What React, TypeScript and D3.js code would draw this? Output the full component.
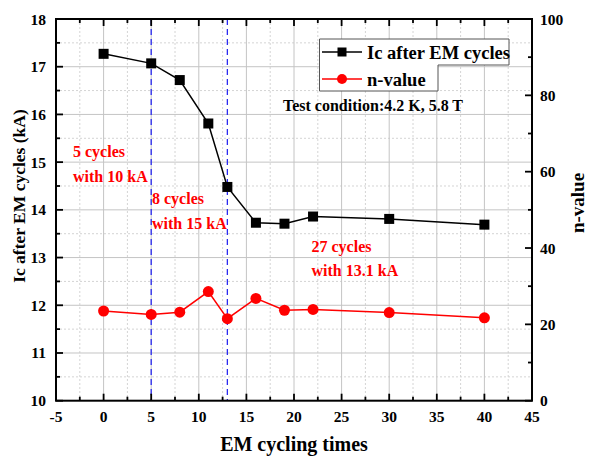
import React from "react";
import * as d3 from "d3";

const cycles = [0, 5, 8, 11, 13, 16, 19, 22, 30, 40];
const icValues = [17.27, 17.07, 16.72, 15.81, 14.48, 13.73, 13.71, 13.86, 13.81, 13.69];
const nValues = [23.5, 22.6, 23.2, 28.6, 21.5, 26.8, 23.7, 23.9, 23.1, 21.7];
const xTicks = [-5, 0, 5, 10, 15, 20, 25, 30, 35, 40, 45];
const yLeftTicks = [10, 11, 12, 13, 14, 15, 16, 17, 18];
const yRightTicks = [0, 20, 40, 60, 80, 100];
const dividers = [5, 13];

const W = 589;
const H = 457;
const M = { left: 56, right: 532, top: 19, bottom: 400.7 };
const FONT = "'Liberation Serif', 'Times New Roman', serif";

export default function App() {
  const x = d3.scaleLinear().domain([-5, 45]).range([M.left, M.right]);
  const yL = d3.scaleLinear().domain([10, 18]).range([M.bottom, M.top]);
  const yR = d3.scaleLinear().domain([0, 100]).range([M.bottom, M.top]);

  const lineIc = d3
    .line<number>()
    .x((_, i) => x(cycles[i]))
    .y((d) => yL(d));
  const lineN = d3
    .line<number>()
    .x((_, i) => x(cycles[i]))
    .y((d) => yR(d));

  const xMinor = d3.range(-2.5, 45, 5);
  const yMinor = d3.range(10.5, 18, 1);
  const yRMinor = d3.range(10, 100, 20);

  const legendPath = "M319.5,39 H509 V65 H438 V91 H319.5 Z";

  return (
    <svg width={W} height={H} style={{ position: "absolute", left: 0, top: 0, background: "#fff" }}>
      {/* minor grid */}
      <g stroke="#d4d4d4" strokeWidth={1} strokeDasharray="2,2">
        {xMinor.map((v) => (
          <line key={"gx" + v} x1={x(v)} x2={x(v)} y1={M.top} y2={M.bottom} />
        ))}
        {yMinor.map((v) => (
          <line key={"gy" + v} x1={M.left} x2={M.right} y1={yL(v)} y2={yL(v)} />
        ))}
      </g>
      {/* major grid */}
      <g stroke="#c4c4c4" strokeWidth={1}>
        {xTicks.slice(1, -1).map((v) => (
          <line key={"Gx" + v} x1={x(v)} x2={x(v)} y1={M.top} y2={M.bottom} />
        ))}
        {yLeftTicks.slice(1, -1).map((v) => (
          <line key={"Gy" + v} x1={M.left} x2={M.right} y1={yL(v)} y2={yL(v)} />
        ))}
      </g>

      {/* regime dividers */}
      <g stroke="#2a2af0" strokeWidth={1.3} strokeDasharray="6,4">
        {dividers.map((v) => (
          <line key={"d" + v} x1={x(v)} x2={x(v)} y1={M.top} y2={M.bottom} />
        ))}
      </g>

      {/* ticks, pointing inward */}
      <g stroke="#000" strokeWidth={1.8}>
        {xTicks.map((v) => (
          <g key={"tx" + v}>
            <line x1={x(v)} x2={x(v)} y1={M.bottom} y2={M.bottom - 7} />
            <line x1={x(v)} x2={x(v)} y1={M.top} y2={M.top + 7} />
          </g>
        ))}
        {xMinor.map((v) => (
          <g key={"mx" + v}>
            <line x1={x(v)} x2={x(v)} y1={M.bottom} y2={M.bottom - 4} />
            <line x1={x(v)} x2={x(v)} y1={M.top} y2={M.top + 4} />
          </g>
        ))}
        {yLeftTicks.map((v) => (
          <line key={"ty" + v} x1={M.left} x2={M.left + 7} y1={yL(v)} y2={yL(v)} />
        ))}
        {yMinor.map((v) => (
          <line key={"my" + v} x1={M.left} x2={M.left + 4} y1={yL(v)} y2={yL(v)} />
        ))}
        {yRightTicks.map((v) => (
          <line key={"tr" + v} x1={M.right} x2={M.right - 7} y1={yR(v)} y2={yR(v)} />
        ))}
        {yRMinor.map((v) => (
          <line key={"mr" + v} x1={M.right} x2={M.right - 4} y1={yR(v)} y2={yR(v)} />
        ))}
      </g>

      {/* frame */}
      <rect
        x={M.left}
        y={M.top}
        width={M.right - M.left}
        height={M.bottom - M.top}
        fill="none"
        stroke="#000"
        strokeWidth={2}
      />

      {/* tick labels */}
      <g fontFamily={FONT} fontWeight="bold" fontSize={15.5} fill="#000">
        {xTicks.map((v) => (
          <text key={"lx" + v} x={x(v)} y={422} textAnchor="middle">
            {v}
          </text>
        ))}
        {yLeftTicks.map((v) => (
          <text key={"ly" + v} x={46} y={yL(v) + 5.5} textAnchor="end">
            {v}
          </text>
        ))}
        {yRightTicks.map((v) => (
          <text key={"lr" + v} x={540} y={yR(v) + 5.5} textAnchor="start">
            {v}
          </text>
        ))}
      </g>

      {/* axis titles */}
      <g fontFamily={FONT} fontWeight="bold" fill="#000">
        <text x={294} y={451} textAnchor="middle" fontSize={20}>
          EM cycling times
        </text>
        <text transform="translate(25,196) rotate(-90)" textAnchor="middle" fontSize={17.5}>
          Ic after EM cycles (kA)
        </text>
        <text transform="translate(584,203) rotate(-90)" textAnchor="middle" fontSize={19}>
          n-value
        </text>
      </g>

      {/* Ic series */}
      <path d={lineIc(icValues) ?? ""} fill="none" stroke="#000" strokeWidth={1.5} />
      {icValues.map((v, i) => (
        <rect key={"s" + i} x={x(cycles[i]) - 5} y={yL(v) - 5} width={10} height={10} fill="#000" />
      ))}

      {/* n-value series */}
      <path d={lineN(nValues) ?? ""} fill="none" stroke="#ff0000" strokeWidth={1.5} />
      {nValues.map((v, i) => (
        <circle key={"c" + i} cx={x(cycles[i])} cy={yR(v)} r={5.5} fill="#ff0000" />
      ))}

      {/* annotations */}
      <g fontFamily={FONT} fontWeight="bold" fontSize={16} fill="#ff0000">
        <text x={73} y={157}>5 cycles</text>
        <text x={73} y={181.5}>with 10 kA</text>
        <text x={152} y={204}>8 cycles</text>
        <text x={152} y={228.5}>with 15 kA</text>
        <text x={311.5} y={251.5}>27 cycles</text>
        <text x={311.5} y={275.5}>with 13.1 kA</text>
      </g>
      <text x={283} y={111} fontFamily={FONT} fontWeight="bold" fontSize={16} fill="#000">
        Test condition:4.2 K, 5.8 T
      </text>

      {/* legend */}
      <path d={legendPath} fill="#fff" stroke="#555" strokeWidth={1} />
      <line x1={322} x2={362} y1={52} y2={52} stroke="#000" strokeWidth={1.5} />
      <rect x={337.5} y={47.5} width={9} height={9} fill="#000" />
      <text x={367} y={58.5} fontFamily={FONT} fontWeight="bold" fontSize={18.5} fill="#000">
        Ic after EM cycles
      </text>
      <line x1={322} x2={362} y1={79} y2={79} stroke="#ff0000" strokeWidth={1.5} />
      <circle cx={342} cy={79} r={5} fill="#ff0000" />
      <text x={367} y={85.5} fontFamily={FONT} fontWeight="bold" fontSize={18.5} fill="#000">
        n-value
      </text>
    </svg>
  );
}
